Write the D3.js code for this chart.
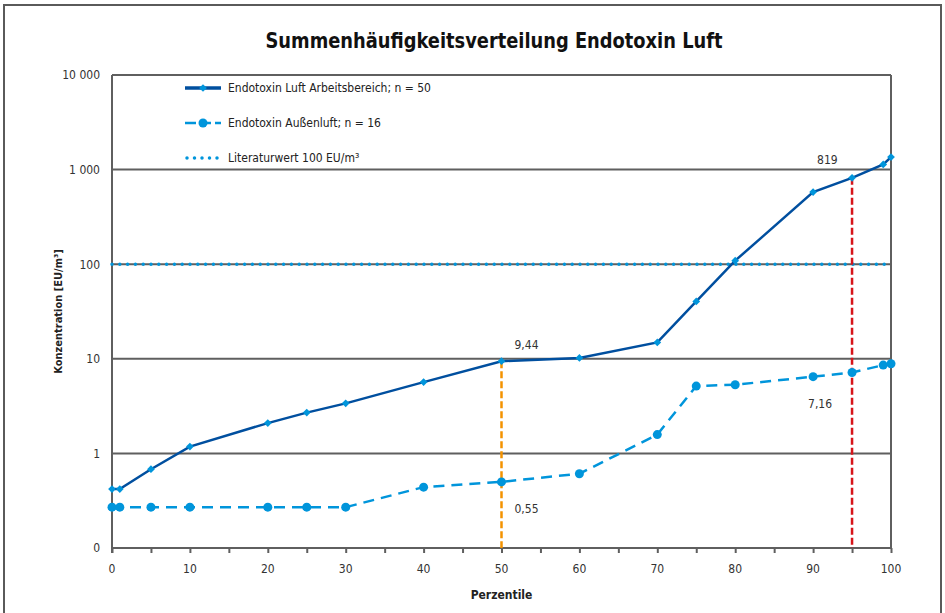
<!DOCTYPE html>
<html>
<head>
<meta charset="utf-8">
<script src="https://cdn.jsdelivr.net/npm/d3@7"></script>
<style>
  body { margin: 0; background: #fff; }
  text { font-family: "DejaVu Sans Condensed", "Liberation Sans Narrow", "Open Sans", sans-serif; }
</style>
</head>
<body>
<div id="graph"></div>
<script>
// percentiles (x) and concentrations (EU/m3)
const percentiles = [0, 1, 5, 10, 20, 25, 30, 40, 50, 60, 70, 75, 80, 90, 95, 99, 100];
const arbeitsbereich = [0.42, 0.42, 0.68, 1.18, 2.09, 2.7, 3.38, 5.67, 9.44, 10.2, 14.9, 40.4, 109, 578, 819, 1135, 1355];
const aussenluft = [0.27, 0.27, 0.27, 0.27, 0.27, 0.27, 0.27, 0.44, 0.5, 0.61, 1.58, 5.15, 5.32, 6.47, 7.16, 8.58, 8.87];
const literaturwert = 100;
const yTicks = [0.1, 1, 10, 100, 1000, 10000];
const yTickLabels = ["0", "1", "10", "100", "1 000", "10 000"];
const xTicks = [0, 10, 20, 30, 40, 50, 60, 70, 80, 90, 100];
const markers = [
  {p: 50, v: 9.44, color: "#f39200", label: "9,44", lowLabel: "0,55", lowV: 0.5},
  {p: 95, v: 819, color: "#d7141a", label: "819", lowLabel: "7,16", lowV: 7.16}
];

const W = 945, H = 613;
let margin = {top: 75, right: 54, bottom: 65, left: 112};
let width = W - margin.left - margin.right,
    height = H - margin.top - margin.bottom;

const darkBlue = "#004f9f", lightBlue = "#0095db", gridGray = "#5f5f5f";

let svg = d3.select("#graph").append("svg")
    .attr("width", W).attr("height", H);

// outer frame
svg.append("path")
    .attr("d", "M4,614 L4,5 L941,5 L941,614")
    .attr("fill", "none").attr("stroke", "#5a5a5a").attr("stroke-width", 2);

svg.append("text")
    .attr("x", 494).attr("y", 48)
    .attr("text-anchor", "middle")
    .attr("font-size", 22).attr("font-weight", "bold")
    .attr("textLength", 457).attr("lengthAdjust", "spacingAndGlyphs")
    .attr("fill", "#111")
    .text("Summenhäufigkeitsverteilung Endotoxin Luft");

let x = d3.scaleLinear().domain([0, 100]).range([0, width]);
let y = d3.scaleLog().domain([0.1, 10000]).range([height, 0]);

let g = svg.append("g").attr("transform", "translate(" + margin.left + "," + margin.top + ")");

// horizontal grid lines
g.selectAll(".grid").data(yTicks).enter().append("line")
    .attr("x1", 0).attr("x2", width)
    .attr("y1", d => y(d)).attr("y2", d => y(d))
    .attr("stroke", gridGray).attr("stroke-width", 2);

// right border
g.append("line").attr("x1", width).attr("x2", width).attr("y1", 0).attr("y2", height)
    .attr("stroke", gridGray).attr("stroke-width", 2);

// x axis
let xAxis = d3.axisBottom(x).tickValues(d3.range(0, 101, 5)).tickSize(5).tickFormat("");
let gx = g.append("g").attr("transform", "translate(0," + height + ")").call(xAxis);
gx.select(".domain").remove();
gx.selectAll(".tick line").attr("stroke", gridGray).attr("stroke-width", 2);
g.selectAll(".xlab").data(xTicks).enter().append("text")
    .attr("x", d => x(d)).attr("y", height + 25)
    .attr("text-anchor", "middle").attr("font-size", 12).attr("fill", "#333")
    .text(d => d);

// y axis
let yAxis = d3.axisLeft(y).tickValues(yTicks).tickSize(0)
    .tickFormat((d, i) => yTickLabels[i]);
let gy = g.append("g").call(yAxis);
gy.select(".domain").remove();
gy.selectAll("text").attr("font-size", 12).attr("fill", "#333").attr("x", -12)
    .style("font-family", "'DejaVu Sans Condensed', sans-serif");
g.append("line").attr("x1", 0).attr("x2", 0).attr("y1", 0).attr("y2", height + 5)
    .attr("stroke", gridGray).attr("stroke-width", 2);

// axis titles
svg.append("text")
    .attr("transform", "translate(62," + (margin.top + height / 2) + ") rotate(-90)")
    .attr("text-anchor", "middle").attr("font-size", 11).attr("font-weight", "bold").attr("fill", "#222")
    .text("Konzentration [EU/m³]");
svg.append("text")
    .attr("x", margin.left + x(50)).attr("y", 599)
    .attr("text-anchor", "middle").attr("font-size", 12).attr("font-weight", "bold").attr("fill", "#222")
    .text("Perzentile");

// literature value line
g.append("line")
    .attr("x1", 0).attr("x2", width)
    .attr("y1", y(literaturwert)).attr("y2", y(literaturwert))
    .attr("stroke", lightBlue).attr("stroke-width", 3.5)
    .attr("stroke-linecap", "round").attr("stroke-dasharray", "0,7.8");

// vertical marker lines
g.selectAll(".vline").data(markers).enter().append("line")
    .attr("x1", d => x(d.p)).attr("x2", d => x(d.p))
    .attr("y1", d => y(d.v)).attr("y2", height)
    .attr("stroke", d => d.color).attr("stroke-width", 2.5)
    .attr("stroke-dasharray", "7,3");

let lineA = d3.line().x((d, i) => x(percentiles[i])).y(d => y(d));
const diamond = d3.symbol().type(d3.symbolSquare).size(30);

// Außenluft
g.append("path").datum(aussenluft)
    .attr("d", lineA).attr("fill", "none")
    .attr("stroke", lightBlue).attr("stroke-width", 2.5)
    .attr("stroke-dasharray", "11,7");
g.selectAll(".dotB").data(aussenluft).enter().append("circle")
    .attr("cx", (d, i) => x(percentiles[i])).attr("cy", d => y(d))
    .attr("r", 4.5).attr("fill", lightBlue);

// Arbeitsbereich
g.append("path").datum(arbeitsbereich)
    .attr("d", lineA).attr("fill", "none")
    .attr("stroke", darkBlue).attr("stroke-width", 2.5);
g.selectAll(".dotA").data(arbeitsbereich).enter().append("path")
    .attr("transform", (d, i) => "translate(" + x(percentiles[i]) + "," + y(d) + ") rotate(45)")
    .attr("d", diamond)
    .attr("fill", lightBlue);

// value labels
g.selectAll(".lab").data(markers).enter().append("text")
    .attr("x", d => x(d.p) + (d.p === 50 ? 13 : -35)).attr("y", d => y(d.v) - (d.p === 50 ? 12 : 14))
    .attr("font-size", 12).attr("fill", "#333").text(d => d.label);
g.selectAll(".lab2").data(markers).enter().append("text")
    .attr("x", d => x(d.p) + (d.p === 50 ? 13 : -44)).attr("y", d => y(d.lowV) + (d.p === 50 ? 31 : 35))
    .attr("font-size", 12).attr("fill", "#333").text(d => d.lowLabel);

// legend
const legendItems = [
  {label: "Endotoxin Luft Arbeitsbereich; n = 50", type: "dark"},
  {label: "Endotoxin Außenluft; n = 16", type: "light"},
  {label: "Literaturwert 100 EU/m³", type: "dot"}
];
let legend = svg.append("g").attr("transform", "translate(185,88)");
legendItems.forEach(function(item, i) {
  let row = legend.append("g").attr("transform", "translate(0," + (i * 35) + ")");
  if (item.type === "dark") {
    row.append("line").attr("x1", 0).attr("x2", 36).attr("stroke", darkBlue).attr("stroke-width", 3.5);
    row.append("path").attr("transform", "translate(18,0) rotate(45)")
      .attr("d", diamond).attr("fill", lightBlue);
  } else if (item.type === "light") {
    row.append("line").attr("x1", 0).attr("x2", 36).attr("stroke", lightBlue).attr("stroke-width", 2.5)
      .attr("stroke-dasharray", "11,4");
    row.append("circle").attr("cx", 18).attr("r", 4.5).attr("fill", lightBlue);
  } else {
    row.append("line").attr("x1", 2).attr("x2", 36).attr("stroke", lightBlue).attr("stroke-width", 3.5)
      .attr("stroke-linecap", "round").attr("stroke-dasharray", "0,7.5");
  }
  row.append("text").attr("x", 43).attr("y", 4).attr("font-size", 12).attr("fill", "#222").text(item.label);
});
</script>
</body>
</html>
